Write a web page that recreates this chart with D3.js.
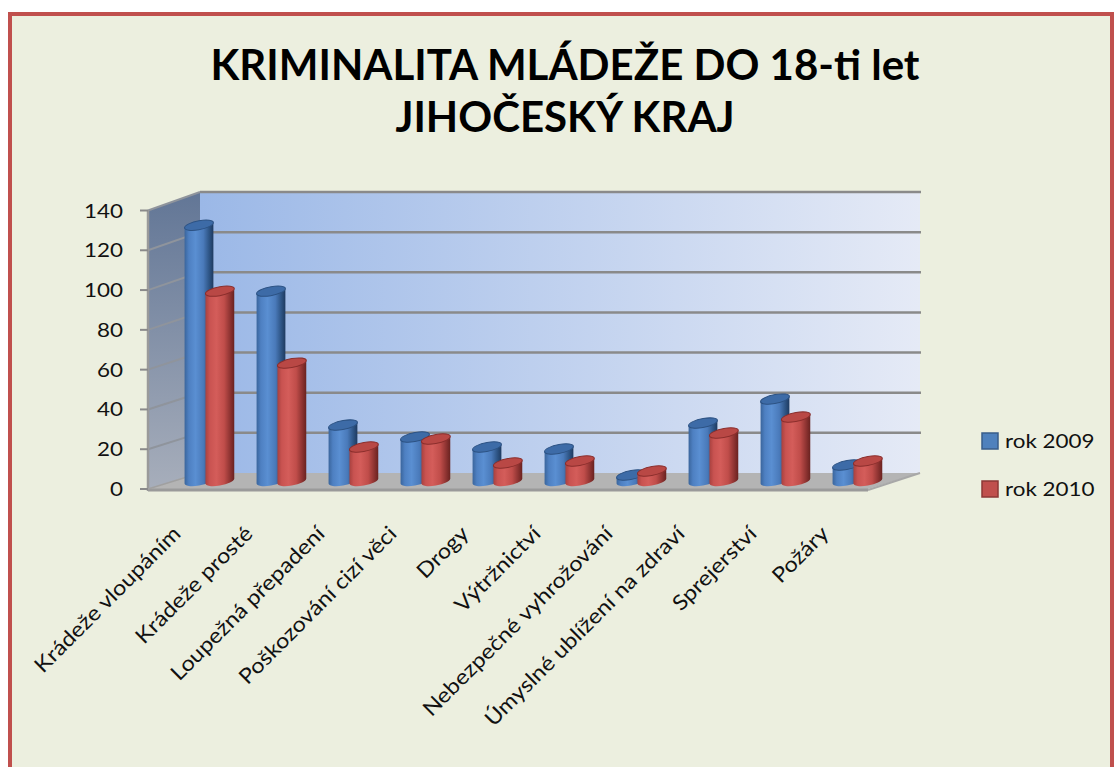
<!DOCTYPE html>
<html><head><meta charset="utf-8">
<script src="https://cdn.jsdelivr.net/npm/d3@7"></script>
<style>body{margin:0;background:#fff;overflow:hidden}</style></head>
<body>
<script>
const categories = ["Krádeže vloupáním","Krádeže prosté","Loupežná přepadení","Poškozování cizí věci","Drogy","Výtržnictví","Nebezpečné vyhrožování","Úmyslné ublížení na zdraví","Sprejerství","Požáry"];
const seriesNames = ["rok 2009","rok 2010"];
const values2009 = [128,95,28,22,17,16,3,29,41,8];
const values2010 = [95,59,17,21,9,10,5,24,32,10];
const yTicks = [0,20,40,60,80,100,120,140];
const titleLines = ["KRIMINALITA MLÁDEŽE DO 18-ti let","JIHOČESKÝ KRAJ"];
const seriesValues = [values2009, values2010];

const W = 1115, H = 767;
const svg = d3.select("body").append("svg").attr("width", W).attr("height", H);
const defs = svg.append("defs");

// frame
svg.append("rect").attr("x",10).attr("y",14).attr("width",1102).attr("height",800)
  .attr("fill","#ecefdf").attr("stroke","#c0504d").attr("stroke-width",4);

// title
svg.append("g").selectAll("text").data(titleLines).join("text")
  .attr("x",565).attr("y",(d,i)=>80+i*52)
  .attr("text-anchor","middle").attr("font-family","Lato").attr("font-weight","bold")
  .attr("font-size",42).attr("fill","#000").text(d=>d);

// scales
const x0 = d3.scaleBand().domain(categories).range([148,868]);
const yFront = d3.scaleLinear().domain([0,140]).range([489,210.5]);
const yBack = d3.scaleLinear().domain([0,140]).range([473,192]);
const DX = 52;
const yAt = (v,d) => yFront(v)*(1-d) + yBack(v)*d;

// gradients
const gWall = defs.append("linearGradient").attr("id","wall").attr("x1",0).attr("x2",1).attr("y1",0).attr("y2",0);
gWall.append("stop").attr("offset",0).attr("stop-color","#9bb8e7");
gWall.append("stop").attr("offset",1).attr("stop-color","#e5eaf6");
const gSide = defs.append("linearGradient").attr("id","side").attr("x1",0).attr("x2",0).attr("y1",0).attr("y2",1);
gSide.append("stop").attr("offset",0).attr("stop-color","#627696");
gSide.append("stop").attr("offset",1).attr("stop-color","#a7aebb");

// back wall
svg.append("rect").attr("x",148+DX).attr("y",yBack(140)).attr("width",720)
  .attr("height",yBack(0)-yBack(140)).attr("fill","url(#wall)");
// side wall
svg.append("path").attr("d",`M148,${yFront(140)}L${148+DX},${yBack(140)}L${148+DX},${yBack(0)}L148,${yFront(0)}Z`)
  .attr("fill","url(#side)");
// floor
svg.append("path").attr("d",`M148,${yFront(0)}L868,${yFront(0)}L${868+DX},${yBack(0)}L${148+DX},${yBack(0)}Z`)
  .attr("fill","#b4b4b4");
svg.append("line").attr("x1",148).attr("x2",868).attr("y1",yFront(0)+1).attr("y2",yFront(0)+1)
  .attr("stroke","#9a9a9a").attr("stroke-width",3);
svg.append("line").attr("x1",868).attr("x2",868+DX).attr("y1",yFront(0)+1).attr("y2",yBack(0))
  .attr("stroke","#a8a8a8").attr("stroke-width",2);

// gridlines
const grid = svg.append("g");
yTicks.filter(v=>v>0).forEach(v=>{
  grid.append("line").attr("x1",148+DX).attr("x2",868+DX+1).attr("y1",yBack(v)).attr("y2",yBack(v))
    .attr("stroke","#8a8a8a").attr("stroke-width",2.5);
  grid.append("line").attr("x1",148).attr("x2",148+DX).attr("y1",yFront(v)).attr("y2",yBack(v))
    .attr("stroke","#8f949c").attr("stroke-width",2);
});
// side wall edges
svg.append("line").attr("x1",148).attr("x2",148).attr("y1",yFront(140)).attr("y2",yFront(0)+2)
  .attr("stroke","#9a9a9a").attr("stroke-width",2.5);
svg.append("line").attr("x1",148).attr("x2",148+DX).attr("y1",yFront(0)).attr("y2",yBack(0))
  .attr("stroke","#a0a0a0").attr("stroke-width",1.5);

// y axis ticks + labels
const yAxis = svg.append("g");
yTicks.forEach(v=>{
  yAxis.append("line").attr("x1",140).attr("x2",148).attr("y1",yFront(v)).attr("y2",yFront(v))
    .attr("stroke","#8a8a8a").attr("stroke-width",2);
  yAxis.append("text").attr("transform",`translate(123,${yFront(v)+7}) scale(1.15,1)`)
    .attr("text-anchor","end").attr("font-family","Lato").attr("font-size",19.5).attr("fill","#111").text(v);
});

// bar gradients
const bodyStops = [
  [[0,"#3a659c"],[0.15,"#4e80c2"],[0.38,"#5a8fd2"],[0.65,"#4a7aba"],[0.85,"#2e5586"],[1,"#1e3a60"]],
  [[0,"#a8413f"],[0.15,"#c95351"],[0.38,"#d45d5a"],[0.65,"#c04d4a"],[0.85,"#8f3432"],[1,"#692220"]]
];
bodyStops.forEach((st,i)=>{
  const g = defs.append("linearGradient").attr("id","body"+i).attr("x1",0).attr("x2",1).attr("y1",0).attr("y2",0);
  st.forEach(s=>g.append("stop").attr("offset",s[0]).attr("stop-color",s[1]));
});
const topFill = ["#3d6ba7","#b94845"];
const topStroke = ["#2c5283","#8a2e2c"];

// bars (cylinders) at mid depth
const D = 0.5;
const bw = x0.bandwidth();
const rx = bw*0.2, ry = 4.5;
const bars = svg.append("g");
categories.forEach((c,ci)=>{
  seriesValues.forEach((vals,si)=>{
    const v = vals[ci];
    const cx = x0(c) + bw*(0.347 + 0.29*si) + DX*D;
    const base = yAt(0,D), top = yAt(v,D);
    const g = bars.append("g").attr("transform",`translate(${cx},0) skewY(-10)`);
    g.append("path").attr("d",`M${-rx},${top}L${-rx},${base}A${rx},${ry} 0 0 0 ${rx},${base}L${rx},${top}Z`)
      .attr("fill",`url(#body${si})`);
    g.append("ellipse").attr("cx",0).attr("cy",top).attr("rx",rx).attr("ry",ry)
      .attr("fill",topFill[si]).attr("stroke",topStroke[si]).attr("stroke-width",1);
  });
});

// category labels
svg.append("g").selectAll("text").data(categories).join("text")
  .attr("transform",d=>`translate(${x0(d)+bw/2-2},535) rotate(-45) scale(1.12,1)`)
  .attr("text-anchor","end").attr("font-family","Lato").attr("font-size",21).attr("fill","#111").text(d=>d);

// legend
const legColors = [["#4f81bd","#385d8a"],["#c0504d","#8c3836"]];
const leg = svg.append("g");
seriesNames.forEach((s,i)=>{
  leg.append("rect").attr("x",982).attr("y",433+i*48).attr("width",16).attr("height",16)
    .attr("fill",legColors[i][0]).attr("stroke",legColors[i][1]).attr("stroke-width",1.5);
  leg.append("text").attr("transform",`translate(1005,${448+i*48}) scale(1.15,1)`)
    .attr("font-family","Lato").attr("font-size",19.5).attr("fill","#111").text(s);
});
</script>
</body></html>
